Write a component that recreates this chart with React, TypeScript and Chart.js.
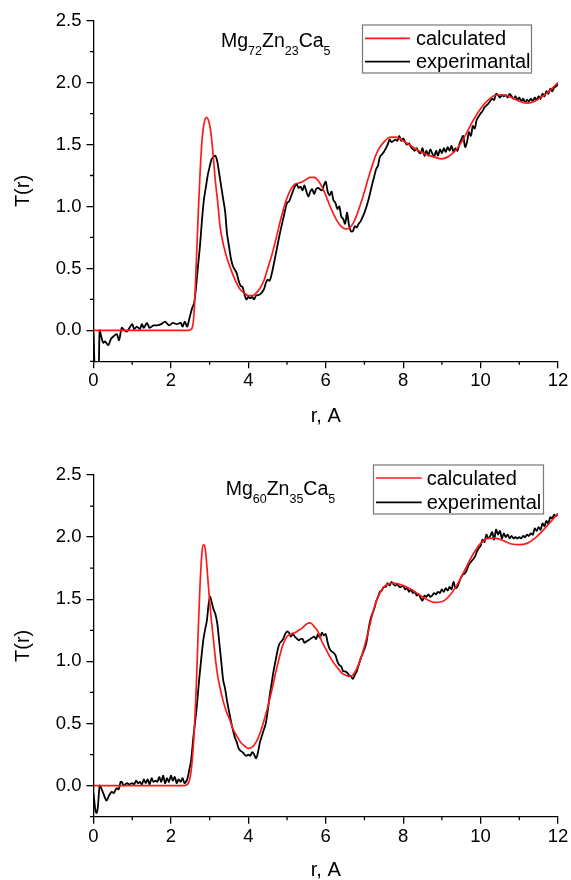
import React, { useEffect, useRef } from 'react';
import { Chart, registerables } from 'chart.js';

Chart.register(...registerables);

// ---------------- data ----------------
const xTickValues = [0, 2, 4, 6, 8, 10, 12];
const yTickValues = [0.0, 0.5, 1.0, 1.5, 2.0, 2.5];
const xTitle = 'r, A';
const yTitle = 'T(r)';
const legendTop = ['calculated', 'experimantal'];
const legendBottom = ['calculated', 'experimental'];
const formulaTop: [string, string][] = [['Mg', '72'], ['Zn', '23'], ['Ca', '5']];
const formulaBottom: [string, string][] = [['Mg', '60'], ['Zn', '35'], ['Ca', '5']];

const calcTop: [number, number][] = [
  [0, 0], [2.45, 0], [2.5, 0.005], [2.55, 0.02], [2.6, 0.15], [2.65, 0.5], [2.7, 0.9], [2.75, 1.25],
  [2.8, 1.52], [2.85, 1.66], [2.92, 1.72], [3.0, 1.66], [3.05, 1.55], [3.1, 1.38], [3.15, 1.2],
  [3.2, 1.06], [3.27, 0.84], [3.35, 0.7], [3.45, 0.58], [3.53, 0.51], [3.6, 0.45], [3.7, 0.38],
  [3.79, 0.33], [3.9, 0.3], [4.0, 0.28], [4.1, 0.28], [4.2, 0.3], [4.3, 0.34], [4.4, 0.4], [4.5, 0.5],
  [4.6, 0.6], [4.7, 0.72], [4.8, 0.85], [4.9, 0.97], [5.0, 1.07], [5.1, 1.14], [5.2, 1.18], [5.3, 1.19],
  [5.4, 1.2], [5.5, 1.22], [5.6, 1.235], [5.7, 1.235], [5.8, 1.21], [5.9, 1.16], [6.0, 1.09], [6.1, 1.01],
  [6.2, 0.94], [6.3, 0.88], [6.4, 0.84], [6.5, 0.82], [6.6, 0.825], [6.7, 0.86], [6.8, 0.93], [6.9, 1.02],
  [7.0, 1.12], [7.1, 1.23], [7.2, 1.33], [7.3, 1.42], [7.4, 1.48], [7.5, 1.52], [7.6, 1.55], [7.7, 1.56],
  [7.8, 1.56], [7.9, 1.55], [8.0, 1.53], [8.2, 1.49], [8.4, 1.45], [8.6, 1.42], [8.8, 1.4], [9.0, 1.385],
  [9.2, 1.41], [9.4, 1.47], [9.6, 1.57], [9.8, 1.69], [10.0, 1.79], [10.2, 1.86], [10.4, 1.9], [10.6, 1.9],
  [10.8, 1.88], [11.0, 1.85], [11.2, 1.835], [11.4, 1.85], [11.6, 1.89], [11.8, 1.94], [12.0, 2.0],
];

const expTop: [number, number][] = [
  [0, -0.02], [0.05, -0.4], [0.12, -0.4], [0.16, 0.0], [0.2, -0.05], [0.25, -0.1], [0.3, -0.09],
  [0.38, -0.12], [0.45, -0.07], [0.51, -0.05], [0.6, -0.03], [0.66, -0.08], [0.73, 0.02], [0.8, 0.0],
  [0.86, -0.01], [0.93, 0.02], [1.0, 0.05], [1.05, 0.01], [1.12, 0.03], [1.2, 0.01], [1.25, 0.05],
  [1.3, 0.02], [1.38, 0.06], [1.45, 0.02], [1.55, 0.04], [1.65, 0.04], [1.75, 0.05], [1.85, 0.07],
  [1.95, 0.04], [2.05, 0.06], [2.15, 0.05], [2.25, 0.06], [2.3, 0.03], [2.36, 0.07], [2.42, 0.03],
  [2.48, 0.1], [2.55, 0.18], [2.6, 0.22], [2.65, 0.35], [2.7, 0.52], [2.75, 0.68], [2.8, 0.88],
  [2.85, 1.05], [2.9, 1.15], [2.95, 1.25], [3.0, 1.32], [3.05, 1.38], [3.1, 1.4], [3.15, 1.41],
  [3.2, 1.36], [3.25, 1.26], [3.3, 1.16], [3.35, 1.06], [3.4, 0.96], [3.45, 0.78], [3.5, 0.68],
  [3.55, 0.58], [3.6, 0.52], [3.65, 0.49], [3.7, 0.46], [3.75, 0.4], [3.8, 0.36], [3.85, 0.35],
  [3.9, 0.29], [3.95, 0.25], [4.0, 0.27], [4.05, 0.26], [4.1, 0.27], [4.15, 0.25], [4.2, 0.28],
  [4.3, 0.29], [4.4, 0.33], [4.45, 0.38], [4.5, 0.41], [4.55, 0.4], [4.6, 0.45], [4.7, 0.6],
  [4.8, 0.76], [4.9, 0.9], [5.0, 1.03], [5.05, 1.04], [5.1, 1.08], [5.2, 1.16], [5.25, 1.18],
  [5.3, 1.15], [5.35, 1.16], [5.4, 1.13], [5.45, 1.17], [5.5, 1.12], [5.55, 1.08], [5.6, 1.12],
  [5.65, 1.14], [5.7, 1.1], [5.75, 1.14], [5.8, 1.15], [5.9, 1.13], [5.95, 1.17], [6.0, 1.2],
  [6.05, 1.12], [6.1, 1.09], [6.15, 1.12], [6.2, 1.05], [6.25, 1.03], [6.3, 0.98], [6.35, 1.0],
  [6.4, 0.92], [6.45, 0.9], [6.5, 0.86], [6.55, 0.95], [6.6, 0.85], [6.65, 0.8], [6.7, 0.8],
  [6.75, 0.84], [6.8, 0.83], [6.85, 0.86], [6.9, 0.88], [7.0, 0.95], [7.1, 1.05], [7.2, 1.18],
  [7.25, 1.24], [7.3, 1.3], [7.35, 1.33], [7.4, 1.4], [7.5, 1.44], [7.6, 1.5], [7.65, 1.54],
  [7.7, 1.52], [7.8, 1.54], [7.85, 1.53], [7.9, 1.57], [7.95, 1.53], [8.0, 1.55], [8.05, 1.52],
  [8.1, 1.5], [8.15, 1.51], [8.2, 1.48], [8.3, 1.45], [8.35, 1.47], [8.4, 1.44], [8.45, 1.43],
  [8.5, 1.47], [8.55, 1.41], [8.6, 1.45], [8.65, 1.41], [8.7, 1.46], [8.75, 1.43], [8.8, 1.4],
  [8.85, 1.45], [8.9, 1.41], [8.95, 1.46], [9.0, 1.43], [9.05, 1.47], [9.1, 1.44], [9.15, 1.48],
  [9.2, 1.45], [9.25, 1.49], [9.3, 1.44], [9.35, 1.47], [9.4, 1.45], [9.45, 1.5], [9.5, 1.54],
  [9.55, 1.57], [9.6, 1.48], [9.65, 1.52], [9.7, 1.6], [9.75, 1.57], [9.8, 1.65], [9.85, 1.63],
  [9.9, 1.7], [10.0, 1.75], [10.05, 1.77], [10.1, 1.8], [10.2, 1.83], [10.3, 1.87], [10.35, 1.86],
  [10.4, 1.91], [10.45, 1.9], [10.5, 1.88], [10.55, 1.9], [10.6, 1.89], [10.65, 1.9], [10.7, 1.88],
  [10.75, 1.91], [10.8, 1.89], [10.85, 1.87], [10.9, 1.89], [10.95, 1.86], [11.0, 1.88], [11.05, 1.85],
  [11.1, 1.87], [11.15, 1.84], [11.2, 1.86], [11.25, 1.85], [11.3, 1.87], [11.35, 1.85], [11.4, 1.88],
  [11.45, 1.86], [11.5, 1.89], [11.55, 1.87], [11.6, 1.91], [11.65, 1.89], [11.7, 1.93], [11.75, 1.91],
  [11.8, 1.95], [11.85, 1.93], [11.9, 1.96], [11.95, 1.97], [12.0, 1.99],
];

const calcBottom: [number, number][] = [
  [0, 0], [2.35, 0], [2.4, 0.005], [2.45, 0.02], [2.5, 0.07], [2.55, 0.2], [2.6, 0.42], [2.65, 0.75],
  [2.7, 1.2], [2.75, 1.6], [2.8, 1.87], [2.84, 1.94], [2.88, 1.92], [2.92, 1.8], [2.97, 1.6], [3.03, 1.38],
  [3.09, 1.2], [3.15, 1.02], [3.2, 0.9], [3.26, 0.8], [3.35, 0.68], [3.45, 0.58], [3.52, 0.53], [3.6, 0.46],
  [3.7, 0.4], [3.8, 0.35], [3.9, 0.32], [4.0, 0.3], [4.1, 0.31], [4.2, 0.35], [4.3, 0.42], [4.4, 0.52],
  [4.5, 0.63], [4.6, 0.76], [4.7, 0.9], [4.8, 1.03], [4.9, 1.14], [5.0, 1.2], [5.1, 1.22], [5.2, 1.23],
  [5.3, 1.25], [5.4, 1.27], [5.5, 1.3], [5.6, 1.31], [5.7, 1.28], [5.8, 1.24], [5.9, 1.16], [6.0, 1.1],
  [6.1, 1.04], [6.2, 0.99], [6.3, 0.95], [6.4, 0.91], [6.5, 0.89], [6.6, 0.88], [6.7, 0.89], [6.8, 0.94],
  [6.9, 1.02], [7.0, 1.12], [7.1, 1.24], [7.2, 1.37], [7.3, 1.48], [7.4, 1.55], [7.5, 1.6], [7.6, 1.62],
  [7.75, 1.63], [8.0, 1.61], [8.2, 1.58], [8.4, 1.54], [8.6, 1.5], [8.8, 1.475], [9.0, 1.48], [9.2, 1.53],
  [9.4, 1.62], [9.6, 1.74], [9.8, 1.86], [10.0, 1.95], [10.2, 1.99], [10.4, 1.99], [10.6, 1.97],
  [10.8, 1.945], [11.0, 1.94], [11.2, 1.95], [11.4, 1.99], [11.6, 2.05], [11.8, 2.12], [12.0, 2.19],
];

const expBottom: [number, number][] = [
  [0, -0.06], [0.05, -0.2], [0.08, -0.22], [0.11, -0.18], [0.16, 0.0], [0.2, -0.02], [0.25, -0.06],
  [0.3, -0.1], [0.34, -0.12], [0.4, -0.08], [0.47, -0.05], [0.52, -0.06], [0.56, -0.04], [0.6, -0.02],
  [0.65, -0.03], [0.7, 0.03], [0.73, 0.03], [0.78, 0.0], [0.82, 0.01], [0.87, 0.02], [0.92, 0.01],
  [1.0, 0.02], [1.05, 0.01], [1.1, 0.04], [1.15, 0.02], [1.2, 0.03], [1.25, 0.01], [1.3, 0.05],
  [1.35, 0.02], [1.4, 0.05], [1.45, 0.01], [1.5, 0.06], [1.55, 0.03], [1.6, 0.04], [1.65, 0.03],
  [1.7, 0.07], [1.75, 0.03], [1.8, 0.08], [1.85, 0.02], [1.9, 0.06], [1.95, 0.03], [2.0, 0.08],
  [2.05, 0.04], [2.1, 0.07], [2.15, 0.02], [2.2, 0.05], [2.25, 0.03], [2.3, 0.06], [2.35, 0.02],
  [2.42, 0.05], [2.47, 0.12], [2.52, 0.2], [2.58, 0.39], [2.62, 0.5], [2.67, 0.64], [2.72, 0.82],
  [2.76, 0.95], [2.8, 1.07], [2.84, 1.18], [2.88, 1.25], [2.93, 1.33], [2.97, 1.45], [3.01, 1.52],
  [3.05, 1.48], [3.1, 1.42], [3.15, 1.38], [3.2, 1.3], [3.25, 1.15], [3.3, 1.0], [3.35, 0.85],
  [3.4, 0.78], [3.45, 0.68], [3.5, 0.6], [3.55, 0.52], [3.6, 0.45], [3.65, 0.39], [3.7, 0.35],
  [3.75, 0.3], [3.8, 0.28], [3.85, 0.27], [3.9, 0.25], [3.95, 0.24], [4.0, 0.25], [4.05, 0.24],
  [4.1, 0.27], [4.15, 0.25], [4.2, 0.22], [4.25, 0.27], [4.3, 0.35], [4.35, 0.4], [4.4, 0.45],
  [4.45, 0.5], [4.5, 0.6], [4.55, 0.72], [4.6, 0.82], [4.65, 0.92], [4.7, 1.0], [4.75, 1.08],
  [4.8, 1.14], [4.85, 1.16], [4.9, 1.18], [4.95, 1.22], [5.0, 1.24], [5.05, 1.23], [5.1, 1.2],
  [5.15, 1.22], [5.2, 1.2], [5.3, 1.17], [5.35, 1.18], [5.4, 1.18], [5.45, 1.15], [5.5, 1.16],
  [5.55, 1.17], [5.6, 1.18], [5.7, 1.2], [5.75, 1.18], [5.8, 1.22], [5.85, 1.19], [5.9, 1.23],
  [5.95, 1.21], [6.0, 1.22], [6.05, 1.15], [6.1, 1.1], [6.15, 1.08], [6.2, 1.07], [6.25, 1.05],
  [6.3, 1.0], [6.35, 0.97], [6.4, 0.96], [6.45, 0.92], [6.5, 0.92], [6.55, 0.91], [6.6, 0.89],
  [6.65, 0.88], [6.7, 0.86], [6.75, 0.89], [6.8, 0.92], [6.85, 0.97], [6.9, 1.02], [6.95, 1.06],
  [7.0, 1.1], [7.05, 1.15], [7.1, 1.25], [7.15, 1.33], [7.2, 1.38], [7.25, 1.42], [7.3, 1.48],
  [7.35, 1.52], [7.4, 1.56], [7.45, 1.57], [7.5, 1.6], [7.55, 1.6], [7.6, 1.63], [7.65, 1.61],
  [7.7, 1.64], [7.75, 1.62], [7.8, 1.61], [7.85, 1.62], [7.9, 1.6], [7.95, 1.6], [8.0, 1.61],
  [8.05, 1.58], [8.1, 1.59], [8.15, 1.56], [8.2, 1.58], [8.25, 1.55], [8.3, 1.56], [8.35, 1.53],
  [8.4, 1.54], [8.45, 1.51], [8.5, 1.49], [8.55, 1.53], [8.6, 1.52], [8.65, 1.54], [8.7, 1.52],
  [8.75, 1.53], [8.8, 1.55], [8.85, 1.54], [8.9, 1.56], [8.95, 1.55], [9.0, 1.58], [9.05, 1.56],
  [9.1, 1.59], [9.15, 1.57], [9.2, 1.6], [9.25, 1.58], [9.3, 1.64], [9.35, 1.59], [9.4, 1.6],
  [9.45, 1.64], [9.5, 1.68], [9.55, 1.7], [9.6, 1.71], [9.65, 1.74], [9.7, 1.78], [9.75, 1.8],
  [9.8, 1.82], [9.85, 1.84], [9.9, 1.88], [9.95, 1.91], [10.0, 1.93], [10.05, 1.98], [10.1, 1.96],
  [10.15, 2.02], [10.2, 1.99], [10.25, 2.01], [10.3, 2.04], [10.35, 1.98], [10.4, 2.06], [10.45, 2.02],
  [10.5, 2.05], [10.55, 1.99], [10.6, 2.03], [10.65, 2.0], [10.7, 2.02], [10.75, 1.99], [10.8, 2.01],
  [10.85, 1.99], [10.9, 2.0], [10.95, 1.99], [11.0, 2.0], [11.05, 1.99], [11.1, 2.01], [11.15, 2.0],
  [11.2, 2.02], [11.25, 2.01], [11.3, 2.03], [11.35, 2.02], [11.4, 2.07], [11.45, 2.05], [11.5, 2.08],
  [11.55, 2.06], [11.6, 2.11], [11.65, 2.09], [11.7, 2.13], [11.75, 2.11], [11.8, 2.16], [11.85, 2.15],
  [11.9, 2.18], [11.95, 2.17], [12.0, 2.19],
];

// ---------------- layout / style ----------------
const FONT = '"Liberation Sans", Arial, Helvetica, sans-serif';
const W = 571;
const H = 440;
const RED = '#ff1a1a';
const BLACK = '#000000';

interface PanelGeom {
  areaTop: number;
  areaBottom: number;
  xTitlePad: number;
  legend: { x: number; y: number; w: number; h: number; lx0: number; lx1: number; tx: number; rows: [number, number] };
  formula: { x: number; y: number };
}

const geomTop: PanelGeom = {
  areaTop: 20.7,
  areaBottom: 361.3,
  xTitlePad: 13.3,
  legend: { x: 362.5, y: 25, w: 169, h: 48, lx0: 365, lx1: 410, tx: 416, rows: [38.3, 61.7] },
  formula: { x: 221, y: 46.7 },
};
const geomBottom: PanelGeom = {
  areaTop: 35,
  areaBottom: 376.7,
  xTitlePad: 0,
  legend: { x: 373.5, y: 25, w: 170, h: 49, lx0: 376, lx1: 421.7, tx: 426.7, rows: [38, 62.3] },
  formula: { x: 225.7, y: 55 },
};

const isMultiple = (v: number, step: number) => Math.abs(v / step - Math.round(v / step)) < 1e-6;

function makeDecor(geom: PanelGeom, legendLabels: string[], formula: [string, string][]) {
  return {
    id: 'decor',
    afterDraw(chart: any) {
      const ctx: CanvasRenderingContext2D = chart.ctx;
      const { left, bottom } = chart.chartArea;
      const xs = chart.scales.x;
      const ys = chart.scales.y;
      ctx.save();
      // minor ticks
      ctx.strokeStyle = BLACK;
      ctx.lineWidth = 1.3;
      ctx.beginPath();
      xs.ticks.forEach((t: any) => {
        if (!xTickValues.some((m) => Math.abs(m - t.value) < 1e-6)) {
          const px = xs.getPixelForValue(t.value);
          ctx.moveTo(px, bottom);
          ctx.lineTo(px, bottom + 3.5);
        }
      });
      ys.ticks.forEach((t: any) => {
        if (!yTickValues.some((m) => Math.abs(m - t.value) < 1e-6)) {
          const py = ys.getPixelForValue(t.value);
          ctx.moveTo(left, py);
          ctx.lineTo(left - 3.5, py);
        }
      });
      ctx.stroke();

      // legend
      const L = geom.legend;
      ctx.strokeStyle = '#777777';
      ctx.lineWidth = 1.2;
      ctx.strokeRect(L.x, L.y, L.w, L.h);
      const colors = [RED, BLACK];
      ctx.font = `20px ${FONT}`;
      ctx.textBaseline = 'middle';
      ctx.textAlign = 'left';
      legendLabels.forEach((lab, i) => {
        ctx.strokeStyle = colors[i];
        ctx.lineWidth = 1.7;
        ctx.beginPath();
        ctx.moveTo(L.lx0, L.rows[i]);
        ctx.lineTo(L.lx1, L.rows[i]);
        ctx.stroke();
        ctx.fillStyle = '#000';
        ctx.fillText(lab, L.tx, L.rows[i] + 1);
      });

      // formula
      ctx.textBaseline = 'alphabetic';
      let x = geom.formula.x;
      const y = geom.formula.y;
      formula.forEach(([el, sub]) => {
        ctx.font = `19.5px ${FONT}`;
        ctx.fillText(el, x, y);
        x += ctx.measureText(el).width;
        ctx.font = `12.5px ${FONT}`;
        ctx.fillText(sub, x, y + 8);
        x += ctx.measureText(sub).width;
      });
      ctx.restore();
    },
  };
}

function buildConfig(calc: [number, number][], exp: [number, number][], geom: PanelGeom, legendLabels: string[], formula: [string, string][]): any {
  return {
    type: 'line',
    data: {
      datasets: [
        {
          label: legendLabels[0],
          data: calc.map(([x, y]) => ({ x, y })),
          borderColor: RED,
          borderWidth: 1.7,
          pointRadius: 0,
          cubicInterpolationMode: 'monotone',
          fill: false,
        },
        {
          label: legendLabels[1],
          data: exp.map(([x, y]) => ({ x, y })),
          borderColor: BLACK,
          borderWidth: 1.8,
          pointRadius: 0,
          tension: 0.3,
          fill: false,
        },
      ],
    },
    options: {
      animation: false,
      responsive: false,
      events: [],
      layout: { padding: { top: geom.areaTop, right: W - 558, left: 0, bottom: 0 } },
      plugins: { legend: { display: false }, tooltip: { enabled: false }, title: { display: false } },
      scales: {
        x: {
          type: 'linear',
          min: 0,
          max: 12,
          afterFit: (s: any) => {
            s.height = H - geom.areaBottom;
          },
          border: { display: true, color: BLACK, width: 1.3 },
          grid: {
            drawOnChartArea: false,
            drawTicks: true,
            tickLength: 7,
            lineWidth: 1.3,
            tickColor: (c: any) => (c.tick && isMultiple(c.tick.value, 2) ? BLACK : 'rgba(0,0,0,0)'),
          },
          ticks: {
            stepSize: 1,
            autoSkip: false,
            maxRotation: 0,
            padding: 2,
            color: '#000',
            font: { family: FONT, size: 18.5 },
            callback: (v: number) => (xTickValues.some((m) => Math.abs(m - v) < 1e-6) ? String(v) : ''),
          },
          title: {
            display: true,
            text: xTitle,
            color: '#000',
            font: { family: FONT, size: 20, lineHeight: 1 },
            padding: { top: 0, bottom: geom.xTitlePad },
          },
        },
        y: {
          type: 'linear',
          min: -0.25,
          max: 2.5,
          afterFit: (s: any) => {
            s.width = 93.5;
          },
          border: { display: true, color: BLACK, width: 1.3 },
          grid: {
            drawOnChartArea: false,
            drawTicks: true,
            tickLength: 7,
            lineWidth: 1.3,
            tickColor: (c: any) => (c.tick && yTickValues.some((m) => Math.abs(m - c.tick.value) < 1e-6) ? BLACK : 'rgba(0,0,0,0)'),
          },
          ticks: {
            stepSize: 0.25,
            autoSkip: false,
            padding: 5,
            color: '#000',
            font: { family: FONT, size: 18.5 },
            callback: (v: number) => (yTickValues.some((m) => Math.abs(m - v) < 1e-6) ? v.toFixed(1) : ''),
          },
          title: {
            display: true,
            text: yTitle,
            color: '#000',
            font: { family: FONT, size: 20, lineHeight: 1 },
            padding: { top: 13, bottom: 0 },
          },
        },
      },
    },
    plugins: [makeDecor(geom, legendLabels, formula)],
  };
}

function Panel(props: { calc: [number, number][]; exp: [number, number][]; geom: PanelGeom; legend: string[]; formula: [string, string][]; top: number }) {
  const ref = useRef<HTMLCanvasElement | null>(null);
  useEffect(() => {
    if (!ref.current) return;
    const chart = new Chart(ref.current, buildConfig(props.calc, props.exp, props.geom, props.legend, props.formula));
    return () => chart.destroy();
  }, []);
  return (
    <canvas
      ref={ref}
      width={W}
      height={H}
      style={{ position: 'absolute', left: 0, top: props.top, width: W, height: H, display: 'block' }}
    />
  );
}

export default function App() {
  return (
    <div style={{ position: 'absolute', left: 0, top: 0, width: W, height: 880, background: '#fff' }}>
      <Panel calc={calcTop} exp={expTop} geom={geomTop} legend={legendTop} formula={formulaTop} top={0} />
      <Panel calc={calcBottom} exp={expBottom} geom={geomBottom} legend={legendBottom} formula={formulaBottom} top={440} />
    </div>
  );
}
